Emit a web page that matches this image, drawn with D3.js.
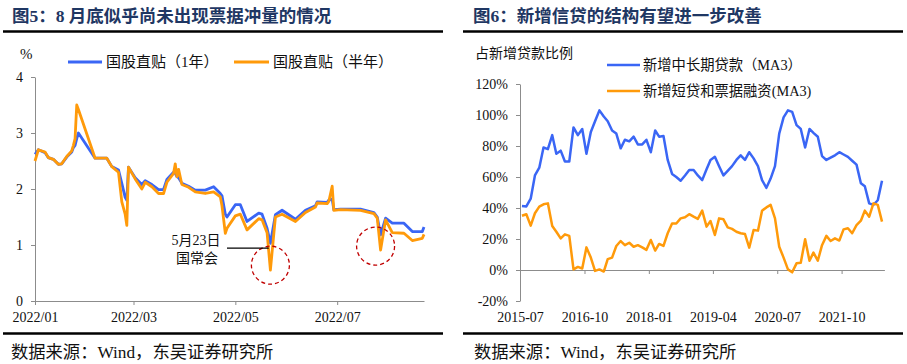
<!DOCTYPE html>
<html><head><meta charset="utf-8">
<script src="https://cdn.jsdelivr.net/npm/d3@7"></script>
<style>
body{margin:0;background:#fff;}
svg{display:block;}
text{font-family:"Liberation Serif","Noto Sans CJK SC",serif;fill:#111;}
.ttl{font-family:"Liberation Serif","Noto Sans CJK SC",sans-serif;font-weight:bold;font-size:17.5px;fill:#1f3763;}
.axis path,.axis line{stroke:#8c8c8c;stroke-width:1;}
.axis text{font-size:14px;fill:#111;}
</style></head><body>
<svg id="c" width="907" height="364"></svg>
<script>
// ---------------- Left chart data ----------------
const leftDates = ["2022-01-01","2022-01-03","2022-01-07","2022-01-09","2022-01-12","2022-01-15","2022-01-17","2022-01-20","2022-01-23","2022-01-24","2022-01-25","2022-01-26","2022-01-27","2022-02-06","2022-02-13","2022-02-16","2022-02-20","2022-02-22","2022-02-24","2022-02-25","2022-02-26","2022-03-02","2022-03-06","2022-03-08","2022-03-12","2022-03-16","2022-03-19","2022-03-21","2022-03-25","2022-03-26","2022-03-27","2022-03-28","2022-03-30","2022-04-03","2022-04-07","2022-04-13","2022-04-18","2022-04-22","2022-04-23","2022-04-25","2022-04-26","2022-05-01","2022-05-04","2022-05-08","2022-05-15","2022-05-17","2022-05-20","2022-05-22","2022-05-25","2022-05-29","2022-06-06","2022-06-12","2022-06-18","2022-06-19","2022-06-25","2022-06-26","2022-06-28","2022-06-29","2022-07-03","2022-07-15","2022-07-23","2022-07-25","2022-07-27","2022-07-30","2022-08-03","2022-08-10","2022-08-15","2022-08-21","2022-08-22"];
const bill1Y =    [2.62,2.70,2.65,2.56,2.53,2.44,2.45,2.57,2.66,2.74,2.78,2.90,3.00,2.55,2.55,2.40,2.34,2.10,1.85,1.80,2.39,2.20,2.08,2.15,2.08,1.99,1.99,2.17,2.30,2.28,2.22,2.20,2.10,2.05,1.98,1.98,2.04,1.92,1.88,1.55,1.50,1.72,1.72,1.42,1.57,1.55,1.30,1.03,1.54,1.62,1.46,1.62,1.70,1.77,1.76,1.80,1.82,1.63,1.64,1.64,1.58,1.50,1.18,1.48,1.39,1.39,1.24,1.24,1.32];
const billHalfY = [2.50,2.70,2.66,2.56,2.53,2.44,2.45,2.58,2.68,2.78,2.90,3.50,3.42,2.55,2.55,2.40,2.30,1.77,1.55,1.35,2.39,2.18,2.00,2.12,2.04,1.92,1.92,2.12,2.28,2.45,2.22,2.35,2.08,2.03,1.95,1.92,1.95,1.86,1.70,1.21,1.30,1.52,1.55,1.27,1.47,1.45,1.22,0.55,1.50,1.55,1.42,1.58,1.68,1.75,1.74,1.78,2.05,1.62,1.63,1.62,1.56,1.48,0.91,1.45,1.22,1.21,1.08,1.12,1.19];
const leftYTicks = [0,1,2,3,4];
const leftXTicks = ["2022-01-01","2022-03-01","2022-05-01","2022-07-01"];
const leftSeriesNames = ["国股直贴（1年）","国股直贴（半年）"];
const circleMarks = [{date:"2022-05-22", v:0.64}, {date:"2022-07-24", v:0.98}];

// ---------------- Right chart data ----------------
const rightMonthCount = 85;
const midLongLoanShare = [41.3,41,46,61,66,79,78,87,75,77,
70,70,92,87,91,75,89,96,103,99,
96,90,88,78.5,84,83,86,81,81,84,
76,90,86,86.5,71,62,60,57.6,61,64.5,
64.5,61,58,65,71,73,67,61,64,67,
71,74,71,76,72,67,58,53,59,67,
88,98.5,103,102,93.5,91,79,91,88.5,86,
73.5,71,72.5,74,76,74.5,73,70.5,68,56,
54,43,42,45,57.6];
const shortBillShare = [35,36,28.6,36.6,40.9,42.4,43,28.4,24.7,20.4,
23,22,0.4,2,1,14.6,8,-0.6,0.4,-1,
7,8,15.5,18.7,16,17.6,15,16,14.6,13,
19.4,12.5,16.8,15.5,23.7,30,30,33.3,34,36,
34.4,33,38.3,28,31.6,22.6,33.3,32.7,27.5,26.5,
24.7,23.7,23.2,14.4,25.8,25.4,38.3,40.4,42,33.3,
15,8,0.4,-1.5,4.3,4.7,19.8,6,11.2,6,
16,22,18.7,20.4,19,26.2,26.9,23.7,29,31.8,
38.3,34.4,43,42,31.2];
const rightYTicks = [-20,0,20,40,60,80,100,120];
const rightXTicks = ["2015-07-01","2016-10-01","2018-01-01","2019-04-01","2020-07-01","2021-10-01"];
const rightSeriesNames = ["新增中长期贷款（MA3）","新增短贷和票据融资(MA3)"];

const BLUE = "#3a66f5", ORANGE = "#ff9a0a";
const parse = d3.timeParse("%Y-%m-%d");
const svg = d3.select("#c");

// ---------- headers / footers ----------
function frame(x0, x1, tx, title, srcX){
  svg.append("text").attr("class","ttl").attr("x",tx).attr("y",22).text(title);
  svg.append("line").attr("x1",x0).attr("x2",x1).attr("y1",31.5).attr("y2",31.5).attr("stroke","#000").attr("stroke-width",2.5);
  svg.append("line").attr("x1",x0).attr("x2",x1).attr("y1",333.5).attr("y2",333.5).attr("stroke","#000").attr("stroke-width",2.5);
  svg.append("text").attr("x",srcX).attr("y",358).attr("font-size",17.3).text("数据来源：Wind，东吴证券研究所");
}
frame(3, 443, 12, "图5：8 月底似乎尚未出现票据冲量的情况", 11);
frame(463, 903, 473, "图6：新增信贷的结构有望进一步改善", 474);

// ---------- Left chart ----------
const xL = d3.scaleTime().domain([parse("2022-01-01"), parse("2022-08-22")]).range([35,424]);
const yL = d3.scaleLinear().domain([0,4]).range([301,77]);

svg.append("g").attr("class","axis").attr("transform","translate(35,0)")
  .call(d3.axisLeft(yL).tickValues(leftYTicks).tickSize(4).tickSizeOuter(0).tickPadding(8).tickFormat(d3.format("d")));
svg.append("g").attr("class","axis").attr("transform","translate(0,301)")
  .call(d3.axisBottom(xL).tickValues(leftXTicks.map(parse)).tickSize(4).tickSizeOuter(0).tickPadding(7).tickFormat(d3.timeFormat("%Y/%m")));
svg.append("text").attr("x",20).attr("y",59).attr("font-size",15).text("%");

const leftData = leftDates.map((d,i)=>({date:parse(d), a:bill1Y[i], b:billHalfY[i]}));
const lineLa = d3.line().x(d=>xL(d.date)).y(d=>yL(d.a));
const lineLb = d3.line().x(d=>xL(d.date)).y(d=>yL(d.b));
svg.append("path").datum(leftData).attr("d",lineLa).attr("fill","none").attr("stroke",BLUE).attr("stroke-width",2.8).attr("stroke-linejoin","round");
svg.append("path").datum(leftData).attr("d",lineLb).attr("fill","none").attr("stroke",ORANGE).attr("stroke-width",2.8).attr("stroke-linejoin","round");

// legend left
[[68,102,BLUE,106,leftSeriesNames[0]],[234,269,ORANGE,273,leftSeriesNames[1]]].forEach(l=>{
  svg.append("line").attr("x1",l[0]).attr("x2",l[1]).attr("y1",62).attr("y2",62).attr("stroke",l[2]).attr("stroke-width",2.8);
  svg.append("text").attr("x",l[3]).attr("y",67).attr("font-size",15).attr("fill","#222").text(l[4]);
});

// annotation
circleMarks.forEach(c=>{
  svg.append("circle").attr("cx",xL(parse(c.date))).attr("cy",yL(c.v)).attr("r",19)
    .attr("fill","none").attr("stroke","#c00000").attr("stroke-width",1.3).attr("stroke-dasharray","4,3");
});
svg.append("line").attr("x1",xL(parse("2022-04-26"))).attr("x2",xL(parse("2022-05-21"))).attr("y1",yL(0.945)).attr("y2",yL(0.945)).attr("stroke","#000").attr("stroke-width",1.4);
svg.append("text").attr("x",196).attr("y",245).attr("font-size",14).attr("text-anchor","middle").attr("fill","#222").text("5月23日");
svg.append("text").attr("x",197).attr("y",263).attr("font-size",14).attr("text-anchor","middle").attr("fill","#222").text("国常会");

// ---------- Right chart ----------
const xR = d3.scaleTime().domain([parse("2015-07-01"), parse("2022-08-01")]).range([520,884.4]);
const yR = d3.scaleLinear().domain([-20,120]).range([301,84]);

svg.append("g").attr("class","axis").attr("transform","translate(520,0)")
  .call(d3.axisLeft(yR).tickValues(rightYTicks).tickSize(4).tickSizeOuter(0).tickPadding(8).tickFormat(d=>d+"%"));
svg.append("g").attr("class","axis").attr("transform","translate(0,"+yR(0)+")")
  .call(d3.axisBottom(xR).tickValues(rightXTicks.map(parse)).tickSize(4).tickSizeOuter(0).tickPadding(38).tickFormat(d3.timeFormat("%Y-%m")));
svg.append("text").attr("x",475).attr("y",58).attr("font-size",14).attr("fill","#222").text("占新增贷款比例");

const months = d3.timeMonth.range(parse("2015-07-01"), parse("2022-08-01")).slice(0,rightMonthCount)
  .map(m=>d3.timeDay.offset(m,14));
const rightData = months.map((m,i)=>({date:m, a:midLongLoanShare[i], b:shortBillShare[i]}));
const lineRa = d3.line().x(d=>xR(d.date)).y(d=>yR(d.a));
const lineRb = d3.line().x(d=>xR(d.date)).y(d=>yR(d.b));
svg.append("path").datum(rightData).attr("d",lineRa).attr("fill","none").attr("stroke",BLUE).attr("stroke-width",2.5).attr("stroke-linejoin","round");
svg.append("path").datum(rightData).attr("d",lineRb).attr("fill","none").attr("stroke",ORANGE).attr("stroke-width",2.5).attr("stroke-linejoin","round");

[[607,640,65,BLUE,rightSeriesNames[0]],[607,640,91,ORANGE,rightSeriesNames[1]]].forEach(l=>{
  svg.append("line").attr("x1",l[0]).attr("x2",l[1]).attr("y1",l[2]).attr("y2",l[2]).attr("stroke",l[3]).attr("stroke-width",2.5);
  svg.append("text").attr("x",643).attr("y",l[2]+5).attr("font-size",14.3).attr("fill","#222").text(l[4]);
});
</script>
</body></html>
